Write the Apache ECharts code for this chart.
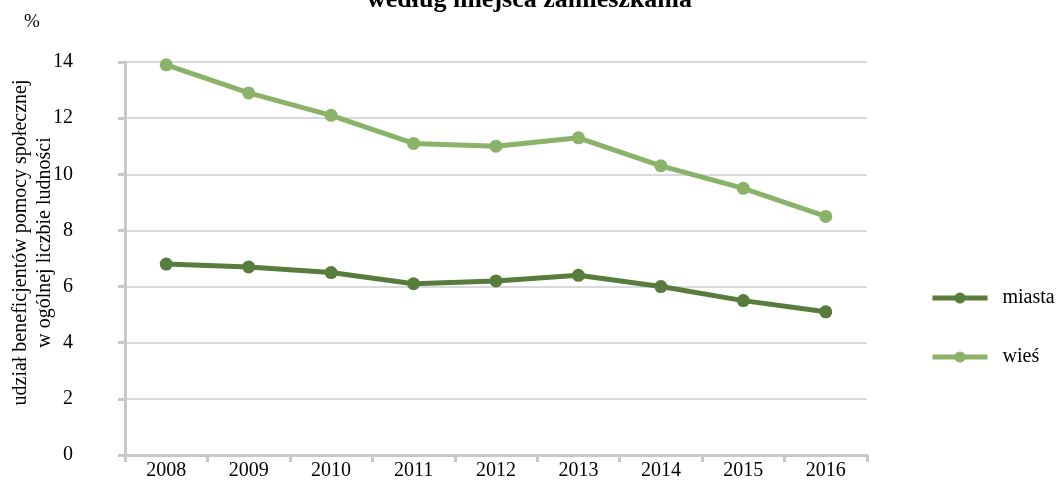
<!DOCTYPE html>
<html>
<head>
<meta charset="utf-8">
<script src="https://cdn.jsdelivr.net/npm/echarts@6/dist/echarts.min.js"></script>
<style>
    html, body { margin: 0; padding: 0; background: #fff; }
    #chart { width: 1059px; height: 491px; }
</style>
</head>
<body>
<div id="chart"></div>
<script>
// dane
const years = ['2008', '2009', '2010', '2011', '2012', '2013', '2014', '2015', '2016'];
const miasta = [6.8, 6.7, 6.5, 6.1, 6.2, 6.4, 6.0, 5.5, 5.1];
const wies = [13.9, 12.9, 12.1, 11.1, 11.0, 11.3, 10.3, 9.5, 8.5];

const FONT = '"Liberation Serif", "Times New Roman", serif';

const chart = echarts.init(document.getElementById('chart'));

chart.setOption({
    animation: false,
    textStyle: { fontFamily: FONT, color: '#000' },
    title: [
        {
            text: 'według miejsca zamieszkania',
            left: 'center',
            top: -18,
            textStyle: { fontFamily: FONT, fontSize: 26, fontWeight: 'bold', color: '#000' }
        },
        {
            text: '%',
            left: 19,
            top: 8,
            textStyle: { fontFamily: FONT, fontSize: 19, fontWeight: 'normal', color: '#000' }
        }
    ],
    legend: {
        orient: 'vertical',
        left: 925,
        top: 283,
        itemWidth: 55,
        itemHeight: 14,
        itemGap: 39,
        lineStyle: { width: 5 },
        textStyle: { fontFamily: FONT, fontSize: 20, color: '#000', padding: [0, 0, 0, 10] },
        data: ['miasta', 'wieś']
    },
    grid: { left: 125, right: 192, top: 62, bottom: 36, outerBoundsMode: 'none', containLabel: false },
    xAxis: {
        type: 'category',
        data: years,
        axisLine: { lineStyle: { color: '#c8c8c8', width: 3 } },
        axisTick: { show: true, length: 7, lineStyle: { color: '#c8c8c8', width: 3 } },
        axisLabel: { fontFamily: FONT, fontSize: 20, color: '#000', margin: 6 }
    },
    yAxis: {
        type: 'value',
        min: 0,
        max: 14,
        interval: 2,
        name: 'udział beneficjentów pomocy społecznej\nw ogólnej liczbie ludności',
        nameLocation: 'middle',
        nameRotate: 90,
        nameGap: 68,
        nameMoveOverlap: false,
        nameTextStyle: { fontFamily: FONT, fontSize: 20, color: '#000', lineHeight: 24, padding: [0, 0, 0, 32] },
        axisLine: { show: true, lineStyle: { color: '#c8c8c8', width: 3 } },
        axisTick: { show: true, length: 7, lineStyle: { color: '#c8c8c8', width: 3 } },
        axisLabel: { fontFamily: FONT, fontSize: 20, color: '#000', margin: 52 },
        splitLine: { lineStyle: { color: '#d9d9d9', width: 2 } }
    },
    series: [
        {
            name: 'miasta',
            type: 'line',
            data: miasta,
            symbol: 'circle',
            symbolSize: 13,
            itemStyle: { color: '#587c3c' },
            lineStyle: { color: '#587c3c', width: 5 }
        },
        {
            name: 'wieś',
            type: 'line',
            data: wies,
            symbol: 'circle',
            symbolSize: 13,
            itemStyle: { color: '#8ab369' },
            lineStyle: { color: '#8ab369', width: 5 }
        }
    ]
});
</script>
</body>
</html>
